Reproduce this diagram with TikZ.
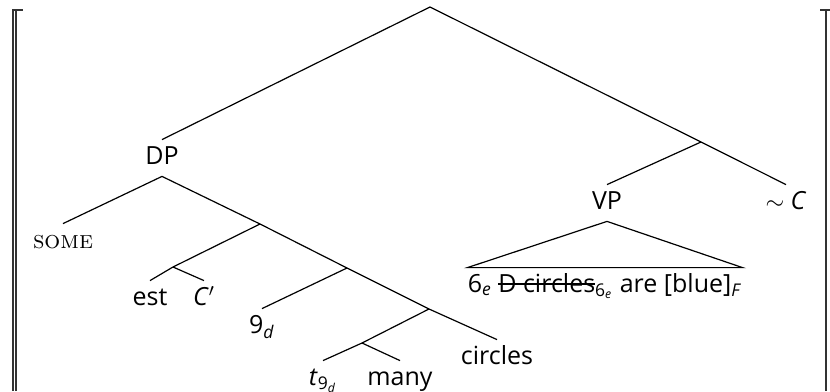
\documentclass[tikz,border=0pt]{standalone}
\usepackage{fontspec}
\setsansfont{Open Sans}
\usetikzlibrary{positioning}
\newcommand{\strikeout}[1]{\setbox0\hbox{#1}\rlap{\rule[0.55ex]{\wd0}{0.8pt}}\box0}
\tikzset{
	cat/.style={inner sep=3pt, text height=9pt, text depth=3pt,
		font=\sffamily\fontsize{12.5}{15}\selectfont},
	branch/.style={line width=0.6pt},
	bracket/.style={line width=0.6pt, black!80}
}

\begin{document}
\begin{tikzpicture}[x=0.5pt,y=-0.5pt]
	\useasboundingbox (0,0) rectangle (830,391);

	% semantic brackets
	\draw[bracket] (13,391) -- (13,10) -- (23,10);
	\draw[bracket] (16,391) -- (16,10);
	\draw[bracket] (826,391) -- (826,10);
	\draw[bracket] (820,10) -- (830,10);

	\coordinate (top) at (430,7);
	\node[cat] (dp) at (162,158) {DP};
	\node[cat] (some) at (63,242) {\rmfamily\textsc{some}};
	\coordinate (n1) at (260,224);
	\coordinate (n1a) at (173,267);
	\node[cat] (est) at (150,299) {est};
	\node[cat] (cp) at (204,299) {\textit{C}$'$};
	\coordinate (n2) at (347,268);
	\node[cat] (nine) at (262,327) {9\textsubscript{\textit{d}}};
	\coordinate (n3) at (429,309);
	\coordinate (n3a) at (362,343);
	\node[cat] (trace) at (323,379) {\textit{t}\textsubscript{9\textsubscript{\textit{d}}}};
	\node[cat] (many) at (400,379) {many};
	\node[cat] (circ) at (497,358) {circles};

	\coordinate (vpup) at (701,142);
	\node[cat] (vp) at (607,203) {VP};
	\node[cat] (cc) at (786,203) {$\sim$ \textit{C}};
	\node[cat, inner xsep=0pt] (vpleaf) at (605,286)
	{6\textsubscript{\textit{e}} \strikeout{D circles}\textsubscript{6\textsubscript{\textit{e}}} are [blue]\textsubscript{\textit{F}}};

	\draw[branch] (top) -- (dp.north);
	\draw[branch] (top) -- (vpup) -- (cc.north);
	\draw[branch] (vpup) -- (vp.north);
	\draw[branch] (vp.south) -- (vpleaf.north west) -- (vpleaf.north east) -- cycle;

	\draw[branch] (dp.south) -- (some.north);
	\draw[branch] (dp.south) -- (n1) -- (n2) -- (n3) -- (circ.north);
	\draw[branch] (n1) -- (n1a) -- (est.north);
	\draw[branch] (n1a) -- (cp.north);
	\draw[branch] (n2) -- (nine.north);
	\draw[branch] (n3) -- (n3a) -- (trace.north);
	\draw[branch] (n3a) -- (many.north);
\end{tikzpicture}
\end{document}
